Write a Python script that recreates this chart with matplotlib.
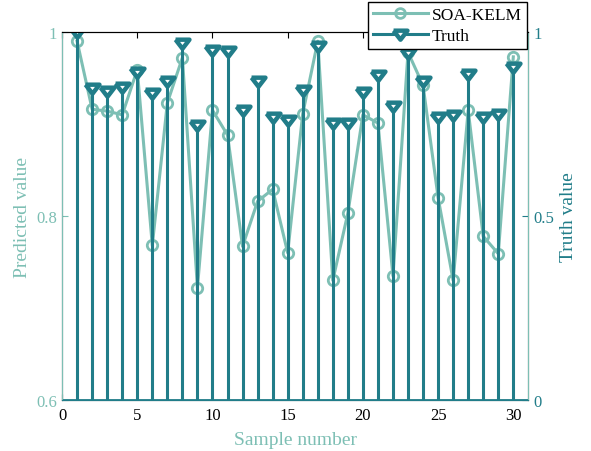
import numpy as np
import matplotlib
matplotlib.use("Agg")
import matplotlib.pyplot as plt
from matplotlib.lines import Line2D

plt.rcParams['font.family'] = ['Liberation Serif', 'DejaVu Serif']
plt.rcParams['mathtext.fontset'] = 'stix'

# dados
samples = np.arange(1, 31)
predicted = [0.990, 0.916, 0.914, 0.910, 0.959, 0.768, 0.923, 0.972, 0.722, 0.915,
             0.888, 0.767, 0.816, 0.829, 0.760, 0.911, 0.990, 0.730, 0.803, 0.910,
             0.901, 0.735, 0.978, 0.942, 0.820, 0.730, 0.915, 0.778, 0.759, 0.973]
truth = [1.000, 0.849, 0.840, 0.851, 0.890, 0.833, 0.868, 0.969, 0.748, 0.952,
         0.949, 0.789, 0.868, 0.770, 0.761, 0.843, 0.962, 0.754, 0.754, 0.836,
         0.884, 0.798, 0.943, 0.867, 0.769, 0.774, 0.886, 0.770, 0.778, 0.904]
xticks = [0, 5, 10, 15, 20, 25, 30]
left_ticks = [0.6, 0.8, 1.0]
left_labels = ['0.6', '0.8', '1']
right_ticks = [0, 0.5, 1]
right_labels = ['0', '0.5', '1']

c_pred = '#7dbfb4'
c_truth = '#217d89'

# triangulo achatado, estilo matlab
tri = [(-1.0, 0.55), (1.0, 0.55), (0.0, -0.75), (-1.0, 0.55)]

fig = plt.figure(figsize=(5.91, 4.52), dpi=100)
ax1 = fig.add_axes([0.105, 0.1128, 0.789, 0.8142])
ax2 = ax1.twinx()

# curva prevista (eixo esquerdo)
ax1.plot(samples, predicted, color=c_pred, lw=2.2, marker='o', ms=7.5,
         mfc='none', mec=c_pred, mew=2)
ax1.set_xlim(0, 31)
ax1.set_ylim(0.6, 1.0)
ax1.set_xticks(xticks)
ax1.set_yticks(left_ticks)
ax1.set_yticklabels(left_labels)
ax1.set_xlabel('Sample number', color=c_pred, fontsize=14, labelpad=6)
ax1.set_ylabel('Predicted value', color=c_pred, fontsize=14)
ax1.tick_params(axis='y', colors=c_pred, labelsize=12, direction='in', length=4)
ax1.tick_params(axis='x', labelsize=12, direction='in', length=4, top=True, pad=5)

# valores reais (eixo direito)
ml, sl, bl = ax2.stem(samples, truth, basefmt=' ')
plt.setp(sl, color=c_truth, lw=2.2)
plt.setp(ml, marker=tri, ms=10, mfc='white', mec=c_truth, mew=3.2)
ax2.axhline(0, color=c_truth, lw=2)
ax2.set_ylim(0, 1)
ax2.set_yticks(right_ticks)
ax2.set_yticklabels(right_labels)
ax2.set_ylabel('Truth value', color=c_truth, fontsize=14)
ax2.tick_params(axis='y', colors=c_truth, labelsize=12, direction='in', length=4)

ax2.spines['left'].set_color(c_pred)
ax2.spines['right'].set_color(c_pred)
ax2.spines['bottom'].set_color(c_truth)
for ax in (ax1, ax2):
    ax.spines['top'].set_linewidth(0.8)

handles = [Line2D([], [], color=c_pred, lw=2.2, marker='o', ms=7, mfc='none', mew=2),
           Line2D([], [], color=c_truth, lw=2.2, marker=tri, ms=10, mfc='white', mew=3.2)]
leg = ax2.legend(handles, ['SOA-KELM', 'Truth'], loc='upper right',
                 bbox_to_anchor=(0.997, 1.082), fontsize=12.5, fancybox=False,
                 edgecolor='black', framealpha=1, handlelength=3.2,
                 borderpad=0.3, labelspacing=0.25, handletextpad=0.2,
                 borderaxespad=0)
leg.get_frame().set_linewidth(1)
leg.set_zorder(10)

fig.savefig('out.png', dpi=100)
